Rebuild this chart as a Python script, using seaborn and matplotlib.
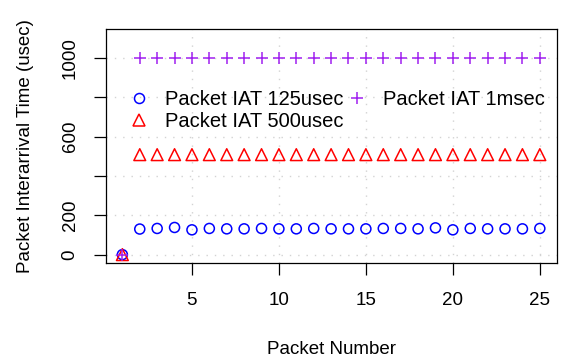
import matplotlib
matplotlib.use("Agg")
import matplotlib.pyplot as plt
import seaborn as sns
import numpy as np
import pandas as pd
from matplotlib.lines import Line2D

packet_number = list(range(1, 26))
iat_125usec = [0, 130, 133, 138, 126, 133, 131, 131, 133, 131, 131, 133, 131,
               131, 131, 133, 133, 131, 136, 126, 133, 131, 131, 131, 133]
iat_500usec = [0] + [508] * 24
iat_1msec = [0] + [1001] * 24
labels = ["Packet IAT 125usec", "Packet IAT 500usec", "Packet IAT 1msec"]
y_ticks = [0, 200, 400, 600, 800, 1000]
y_tick_labels = ["0", "200", "", "600", "", "1000"]
x_ticks = [5, 10, 15, 20, 25]

plt.rcParams['font.family'] = ['Liberation Sans', 'DejaVu Sans']
FS = 13.5
LFS = 14.5

fig = plt.figure(figsize=(5.63, 3.57), dpi=100)
ax = fig.add_axes([0.1877, 0.2625, 0.9885 - 0.1877, 0.9174 - 0.2625])

df = pd.DataFrame({"x": packet_number, "a": iat_125usec, "b": iat_500usec, "c": iat_1msec})

sns.scatterplot(data=df, x="x", y="a", ax=ax, marker="o", s=52,
                facecolors="none", edgecolor="#0000FF", linewidth=1.1, zorder=3)
sns.scatterplot(data=df, x="x", y="b", ax=ax, marker="^", s=72,
                facecolors="none", edgecolor="#FF0000", linewidth=1.1, zorder=3)
sns.scatterplot(data=df, x="x", y="c", ax=ax, marker="+", s=80,
                color="#A020F0", linewidth=1.1, zorder=3)

ax.set_xlim(0.04, 25.96)
ax.set_ylim(-44, 1144)
ax.set_xticks(x_ticks)
ax.set_xticklabels([str(t) for t in x_ticks])
ax.set_yticks(y_ticks)
ax.set_yticklabels(y_tick_labels, rotation=90, va="center")

ax.grid(True, color="#D3D3D3", linestyle=(0, (1, 5)), linewidth=1.0)
ax.set_axisbelow(True)

for sp in ax.spines.values():
    sp.set_color("black")
    sp.set_linewidth(0.9)

ax.tick_params(axis="both", direction="out", length=8.5, width=0.9,
               labelsize=FS, colors="black")
ax.tick_params(axis="x", pad=12)
ax.tick_params(axis="y", pad=11)

ax.set_xlabel("Packet Number", fontsize=FS, labelpad=23)
ax.set_ylabel("Packet Interarrival Time (usec)", fontsize=FS, labelpad=20)

handles = [
    Line2D([], [], linestyle="", marker="o", markersize=7.2, markerfacecolor="none",
           markeredgecolor="#0000FF", markeredgewidth=1.1),
    Line2D([], [], linestyle="", marker="^", markersize=8.5, markerfacecolor="none",
           markeredgecolor="#FF0000", markeredgewidth=1.1),
    Line2D([], [], linestyle="", marker="+", markersize=9, color="#A020F0",
           markeredgewidth=1.1),
]
ax.legend(handles, labels, ncol=2, frameon=False, fontsize=LFS,
          loc="upper left", bbox_to_anchor=(0.052, 0.74),
          borderaxespad=0, borderpad=0, handlelength=1.0, handletextpad=0.8,
          columnspacing=0.15, labelspacing=0.16)

fig.savefig("out.png", dpi=100)
